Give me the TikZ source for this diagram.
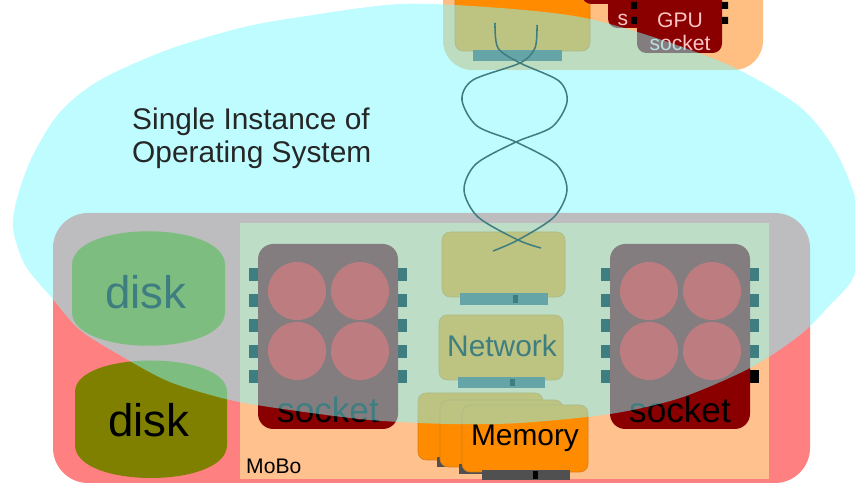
\documentclass[tikz,border=0pt]{standalone}
\usepackage{fontspec}
\setmainfont{Liberation Sans}

\definecolor{caseRed}{RGB}{255,128,128}
\definecolor{boardOrange}{RGB}{255,193,142}
\definecolor{hostOrange}{RGB}{255,190,130}
\definecolor{cardOrange}{RGB}{255,140,0}
\definecolor{cardEdge}{RGB}{215,125,20}
\definecolor{diskOlive}{RGB}{128,128,0}
\definecolor{socketRed}{RGB}{138,0,0}
\definecolor{coreRed}{RGB}{255,0,0}
\definecolor{barGrey}{RGB}{80,80,80}
\definecolor{gpuText}{RGB}{255,196,196}
\definecolor{osCyan}{RGB}{125,250,255}

\begin{document}
\begin{tikzpicture}[x=0.03cm, y=-0.03cm,
        card/.style = {fill = cardOrange, draw = cardEdge, line width = 0.5pt, rounded corners = 7pt},
        slot/.style = {fill = barGrey},
        cable/.style = {draw = black, line width = 1.3pt},
        big/.style = {font = \fontsize{39}{44}\selectfont},
        mid/.style = {font = \fontsize{25.5}{28.5}\selectfont},
        sml/.style = {font = \fontsize{18}{20}\selectfont}]
    \useasboundingbox (0, 0) rectangle (855, 486);
    \clip (0, 0) rectangle (855, 486);

    % the other machine, cut off at the top
    \fill [hostOrange, rounded corners = 25pt] (443, -60) rectangle (763, 70);
    \draw [card] (455, -60) rectangle (590, 51);
    \fill [slot] (473, 50) rectangle (562, 61);
    \fill [socketRed, rounded corners = 8pt] (582, -80) rectangle (667, 4);
    \fill [socketRed, rounded corners = 8pt] (608, -60) rectangle (693, 28);
    \node (gpuB) [sml, text = gpuText, inner sep = 0] at (623, 20) {s};
    \fill [socketRed, rounded corners = 8pt] (637, -40) rectangle (722, 53);
    \fill [black]
        (631, 2) rectangle (637, 9)   (631, 17) rectangle (637, 24)
        (722, 2) rectangle (728, 9)   (722, 17) rectangle (728, 24);
    \node (gpuA) [sml, text = gpuText, align = center, inner sep = 0] at (680, 32) {GPU\\socket};

    % motherboard
    \fill [caseRed, rounded corners = 30pt] (53, 213) rectangle (810, 483);
    \fill [boardOrange] (240, 223) rectangle (769, 479);
    \node (mobo) [anchor = west, inner sep = 0, font = \fontsize{18}{20}\selectfont] at (246, 466) {MoBo};

    % disks
    \fill [diskOlive]
        (72, 265) .. controls (72, 220) and (225, 220) .. (225, 265)
        -- (225, 312) .. controls (225, 357) and (72, 357) .. (72, 312) -- cycle;
    \node (diskA) [big] at (146, 292) {disk};
    \fill [diskOlive]
        (75, 392) .. controls (75, 350) and (227, 350) .. (227, 392)
        -- (227, 445) .. controls (227, 489) and (75, 489) .. (75, 445) -- cycle;
    \node (diskB) [big] at (149, 420) {disk};

    % cpu sockets
    \foreach \sx/\nm in {258/sockL, 610/sockR} {
        \begin{scope}[shift = {(\sx, 0)}]
            \foreach \py in {275, 300.5, 326, 351.5, 377} {
                \fill [black] (-9, \py - 6.5) rectangle (1, \py + 6.5);
                \fill [black] (139, \py - 6.5) rectangle (149, \py + 6.5);
            }
            \fill [socketRed, rounded corners = 13pt] (0, 244) rectangle (140, 429);
            \fill [coreRed]
                (39, 291) circle [radius = 29]  (102, 291) circle [radius = 29]
                (39, 351) circle [radius = 29]  (102, 351) circle [radius = 29];
            \node (\nm) [font = \fontsize{30}{34}\selectfont] at (70, 410) {socket};
        \end{scope}
    }

    % network cards
    \draw [card] (442, 232) rectangle (565, 297);
    \fill [slot] (460, 293) rectangle (548, 305);
    \fill [black] (513, 295) rectangle (518, 303);
    \draw [card] (439, 315) rectangle (563, 380);
    \node (nic) [mid] at (502, 346) {Network};
    \fill [slot] (458, 377) rectangle (545, 388);
    \fill [black] (510, 379) rectangle (515, 386);

    % memory sticks
    \draw [card] (418, 393) rectangle (543, 460);
    \fill [slot] (437, 457) rectangle (525, 467);
    \draw [card] (440, 400) rectangle (563, 467);
    \fill [slot] (459, 464) rectangle (547, 474);
    \draw [card] (462, 405) rectangle (588, 472);
    \fill [slot] (482, 470) rectangle (570, 480);
    \fill [black] (533, 471) rectangle (538, 479);
    \node (mem) [mid] at (525, 438) {Memory};

    % twisted pair between the two machines
    \draw [cable] plot [smooth] coordinates {
        (495, 23) (498, 48) (520, 63) (559, 81) (567, 102) (552, 127) (516, 142)
        (476, 164) (464, 190) (478, 217) (518, 240) (541, 248)};
    \draw [cable] plot [smooth] coordinates {
        (537, 25) (535, 48) (520, 63) (473, 80) (462, 100) (477, 126) (516, 142)
        (556, 164) (567, 190) (554, 217) (518, 240) (493, 251)};

    % operating system bubble
    \fill [osCyan, fill opacity = 0.5] plot [smooth cycle] coordinates {
        (400, 4) (500, 8) (580, 17) (650, 36) (733, 67) (800, 107) (835, 150)
        (856, 200) (862, 245) (852, 280) (830, 305) (800, 335) (750, 368)
        (680, 398) (610, 414) (520, 423) (450, 424) (370, 420) (290, 410)
        (230, 400) (170, 382) (123, 357) (80, 330) (52, 298) (25, 265)
        (13, 228) (18, 195) (33, 155) (60, 112) (100, 80) (167, 50)
        (240, 28) (300, 17)};
    \node (os) [mid, anchor = west, align = left, inner sep = 0, text = black!85] at (132, 138)
        {Single Instance of\\Operating System};
\end{tikzpicture}
\end{document}
